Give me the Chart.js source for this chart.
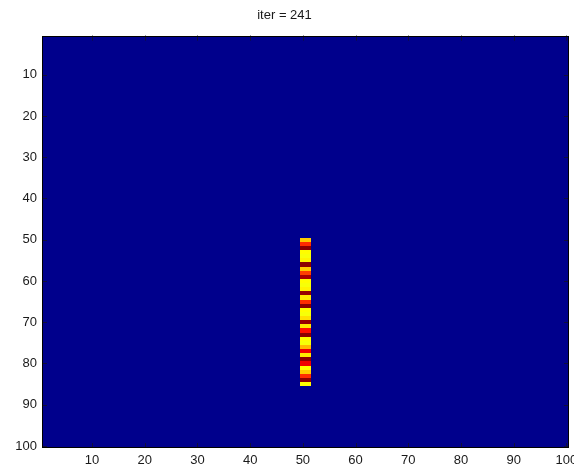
<!DOCTYPE html>
<html>
<head>
<meta charset="utf-8">
<script src="https://cdn.jsdelivr.net/npm/chart.js@4/dist/chart.umd.min.js"></script>
<style>
  html, body { margin: 0; padding: 0; background: #fff; }
  #wrap { width: 574px; height: 470px; }
</style>
</head>
<body>
<div id="wrap"><canvas id="heat"></canvas></div>
<script>
// image size (rows x cols), everything else is 0
const nRows = 100;
const nCols = 100;
const xTicks = [10, 20, 30, 40, 50, 60, 70, 80, 90, 100];
const yTicks = [10, 20, 30, 40, 50, 60, 70, 80, 90, 100];
const titleText = 'iter = 241';

// the hot strip: same value in both columns, rows 50..85
const stripCols = [50, 51];
const stripFirstRow = 50;
const stripValues = [
  0.68, 0.84, 1.00, 0.63, 0.62, 0.64, 1.00, 0.68, 0.82, 0.97,
  0.63, 0.62, 0.64, 0.99, 0.65, 0.84, 1.00, 0.63, 0.62, 0.66,
  0.99, 0.65, 0.87, 1.00, 0.63, 0.62, 0.70, 0.90, 0.65, 1.00,
  0.90, 0.63, 0.68, 0.84, 1.00, 0.63
];

// matlab-ish jet colormap
function jet(v) {
  const x = 0.0125 + 0.975 * v;
  const c = t => Math.round(255 * Math.max(0, Math.min(1, t)));
  const r = c(1.5 - Math.abs(4 * x - 3));
  const g = c(1.5 - Math.abs(4 * x - 2));
  const b = c(1.5 - Math.abs(4 * x - 1));
  return 'rgb(' + r + ',' + g + ',' + b + ')';
}

const heatPlugin = {
  id: 'heat',
  beforeDatasetsDraw(chart) {
    const ctx = chart.ctx;
    const xs = chart.scales.x;
    const ys = chart.scales.y;
    const rect = (c0, c1, r0, r1, color) => {
      const x0 = Math.round(xs.getPixelForValue(c0));
      const x1 = Math.round(xs.getPixelForValue(c1));
      const y0 = Math.round(ys.getPixelForValue(r0));
      const y1 = Math.round(ys.getPixelForValue(r1));
      ctx.fillStyle = color;
      ctx.fillRect(Math.min(x0, x1), Math.min(y0, y1), Math.abs(x1 - x0), Math.abs(y1 - y0));
    };
    ctx.save();
    // zero background
    rect(0.5, nCols + 0.5, 0.5, nRows + 0.5, jet(0));
    stripValues.forEach((v, i) => {
      const row = stripFirstRow + i;
      stripCols.forEach(col => {
        rect(col - 0.5, col + 0.5, row - 0.5, row + 0.5, jet(v));
      });
    });
    ctx.restore();
  },
  afterDatasetsDraw(chart) {
    const ctx = chart.ctx;
    const a = chart.chartArea;
    const xs = chart.scales.x;
    const ys = chart.scales.y;
    ctx.save();
    ctx.strokeStyle = '#10103a';
    ctx.lineWidth = 1;
    // inward tick marks
    ctx.beginPath();
    xTicks.forEach(t => {
      const px = Math.round(xs.getPixelForValue(t)) + 0.5;
      ctx.moveTo(px, a.bottom); ctx.lineTo(px, a.bottom - 5);
      ctx.moveTo(px, a.top); ctx.lineTo(px, a.top + 5);
    });
    yTicks.forEach(t => {
      const py = Math.round(ys.getPixelForValue(t)) + 0.5;
      ctx.moveTo(a.left, py); ctx.lineTo(a.left + 5, py);
      ctx.moveTo(a.right, py); ctx.lineTo(a.right - 5, py);
    });
    ctx.stroke();
    // box
    ctx.strokeStyle = '#000';
    ctx.strokeRect(Math.round(a.left) + 0.5, Math.round(a.top) + 0.5,
      Math.round(a.right - a.left) - 1, Math.round(a.bottom - a.top) - 1);
    ctx.restore();
  }
};

document.addEventListener('DOMContentLoaded', function() {
  const el = document.getElementById('heat');
  new Chart(el, {
    type: 'scatter',
    data: { datasets: [{ data: [], pointRadius: 0 }] },
    options: {
      responsive: true,
      maintainAspectRatio: false,
      animation: false,
      layout: { padding: { left: 0, right: 5, top: 0, bottom: 0 } },
      plugins: {
        legend: { display: false },
        tooltip: { enabled: false },
        title: {
          display: true,
          text: titleText,
          color: '#1a1a1a',
          font: { family: 'Liberation Sans, Arial, sans-serif', size: 13, weight: 'normal' },
          padding: { top: 8, bottom: 12 }
        }
      },
      scales: {
        x: {
          type: 'linear',
          min: 0.5,
          max: nCols + 0.5,
          afterBuildTicks: s => { s.ticks = xTicks.map(v => ({ value: v })); },
          afterFit: s => { s.height = 22; s.paddingLeft = 0; s.paddingRight = 0; },
          grid: { display: false, drawTicks: false },
          border: { display: false },
          ticks: {
            padding: 5,
            maxRotation: 0,
            autoSkip: false,
            color: '#1a1a1a',
            font: { family: 'Liberation Sans, Arial, sans-serif', size: 13 }
          }
        },
        y: {
          type: 'linear',
          reverse: true,
          min: 0.5,
          max: nRows + 0.5,
          afterBuildTicks: s => { s.ticks = yTicks.map(v => ({ value: v })); },
          afterFit: s => { s.width = 42; s.paddingTop = 0; s.paddingBottom = 0; },
          grid: { display: false, drawTicks: false },
          border: { display: false },
          ticks: {
            padding: 5,
            autoSkip: false,
            color: '#1a1a1a',
            font: { family: 'Liberation Sans, Arial, sans-serif', size: 13 }
          }
        }
      }
    },
    plugins: [heatPlugin]
  });
});
</script>
</body>
</html>
